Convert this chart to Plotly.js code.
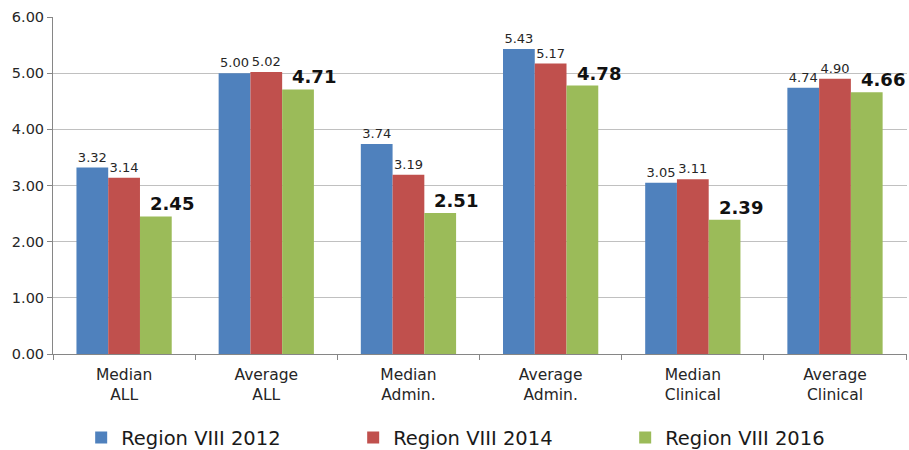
<!DOCTYPE html>
<html>
<head>
<meta charset="utf-8">
<script src="https://cdn.plot.ly/plotly-3.0.1.min.js"></script>
<style>html,body{margin:0;padding:0;background:#fff}#chart{width:909px;height:450px}</style>
</head>
<body>
<div id="chart"></div>
<script>
const categories = ["Median<br>ALL", "Average<br>ALL", "Median<br>Admin.", "Average<br>Admin.", "Median<br>Clinical", "Average<br>Clinical"];
const region2012 = [3.32, 5.00, 3.74, 5.43, 3.05, 4.74];
const region2014 = [3.14, 5.02, 3.19, 5.17, 3.11, 4.90];
const region2016 = [2.45, 4.71, 2.51, 4.78, 2.39, 4.66];
const seriesNames = ["Region VIII 2012", "Region VIII 2014", "Region VIII 2016"];
const yTicks = [0, 1, 2, 3, 4, 5, 6];

const font = "Verdana, 'DejaVu Sans', sans-serif";
function bar(name, vals, color, withText) {
  const t = {
    type: "bar", name: name, x: categories, y: vals,
    marker: {color: color},
    cliponaxis: false, hoverinfo: "skip"
  };
  if (withText) {
    t.texttemplate = "%{y:.2f}";
    t.textposition = "outside";
    t.constraintext = "none";
    t.textfont = {size: 13, color: "#262626", family: font};
  }
  return t;
}
const data = [
  bar(seriesNames[0], region2012, "#4F81BD", true),
  bar(seriesNames[1], region2014, "#C0504D", true),
  bar(seriesNames[2], region2016, "#9BBB59", false)
];
// bold labels for the 2016 series, placed up and to the right of each green bar
const annotations = region2016.map((v, i) => ({
  x: categories[i], y: v, xref: "x", yref: "y",
  text: v.toFixed(2), showarrow: false,
  xanchor: "center", yanchor: "bottom", xshift: 48, yshift: 0,
  font: {size: 18, color: "#111", family: font, weight: "bold"}
}));
const layout = {
  width: 909, height: 450,
  margin: {l: 53, r: 2, t: 17, b: 96},
  barmode: "group", bargap: 0.33, bargroupgap: 0,
  paper_bgcolor: "#fff", plot_bgcolor: "#fff",
  font: {family: font, color: "#262626"},
  showlegend: true,
  annotations: annotations,
  legend: {orientation: "h", x: 0.033, xanchor: "left", yref: "container", y: 0.027, yanchor: "middle",
           font: {size: 19.5, color: "#1a1a1a", family: font}, entrywidth: 227, entrywidthmode: "pixels",
           traceorder: "normal"},
  xaxis: {type: "category", showline: true, linecolor: "#868686", linewidth: 1,
          ticks: "outside", tickson: "boundaries", ticklen: 5, tickcolor: "#868686", ticklabelstandoff: 6,
          tickfont: {size: 15.5, family: font, color: "#262626"}, showgrid: false, zeroline: false, fixedrange: true},
  yaxis: {range: [0, 6], tickvals: yTicks, tickformat: ".2f", showline: true, linecolor: "#868686", linewidth: 1,
          ticks: "outside", ticklen: 5, tickcolor: "#868686", gridcolor: "#c0c0c0", zeroline: false,
          tickfont: {size: 14.5, family: font, color: "#262626"}, fixedrange: true}
};
Plotly.newPlot("chart", data, layout, {displayModeBar: false, staticPlot: true});
</script>
</body>
</html>
